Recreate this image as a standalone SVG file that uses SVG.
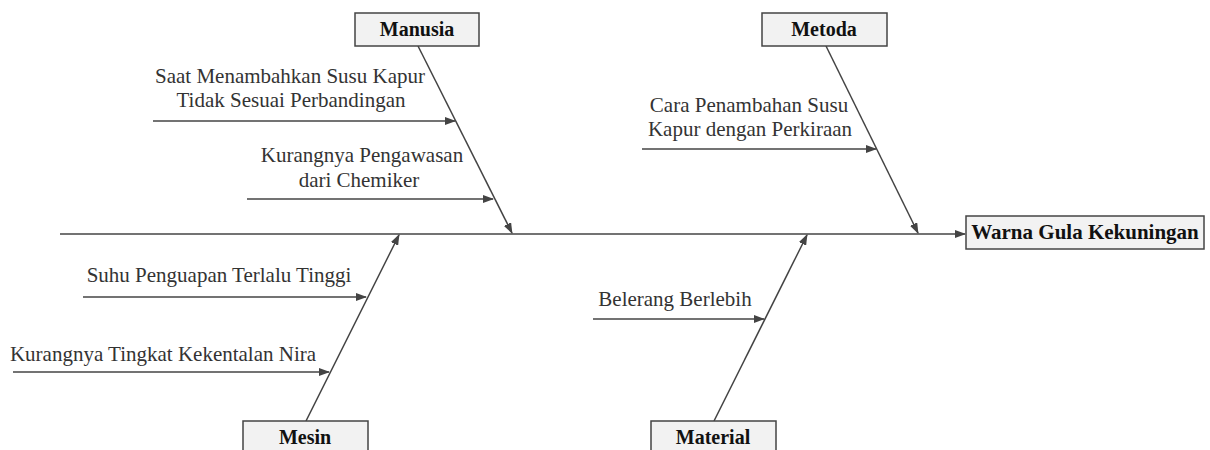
<svg xmlns="http://www.w3.org/2000/svg" width="1210" height="450" viewBox="0 0 1210 450">
<style>
.bg{fill:#ffffff}
.box{fill:#f2f2f2;stroke:#444;stroke-width:1.5}
.lbl{font-family:"Liberation Serif","Times New Roman",serif;font-weight:bold;font-size:20px;fill:#111;text-anchor:middle}
.big{font-size:21px}
.cause{font-family:"Liberation Serif","Times New Roman",serif;font-size:21px;fill:#333;text-anchor:middle}
.ln{stroke:#444;stroke-width:1.5;fill:none;marker-end:url(#ah)}
</style>
<defs>
<marker id="ah" markerUnits="userSpaceOnUse" markerWidth="11" markerHeight="8" refX="10" refY="4" orient="auto">
<path d="M0,0 L11,4 L0,8 z" fill="#444"/>
</marker>
</defs>
<rect class="bg" x="0" y="0" width="1210" height="450"/>
<g id="connectors">
<line class="ln" x1="60" y1="234" x2="965" y2="234"/>
<line class="ln" x1="418" y1="46" x2="512" y2="233"/>
<line class="ln" x1="826" y1="46" x2="918" y2="233"/>
<line class="ln" x1="306" y1="421" x2="399" y2="235"/>
<line class="ln" x1="714" y1="421" x2="807" y2="235"/>
<line class="ln" x1="153" y1="121" x2="455" y2="121"/>
<line class="ln" x1="247" y1="199" x2="493" y2="199"/>
<line class="ln" x1="642" y1="149" x2="876" y2="149"/>
<line class="ln" x1="83" y1="297" x2="366" y2="297"/>
<line class="ln" x1="13" y1="372" x2="329" y2="372"/>
<line class="ln" x1="593" y1="319" x2="764" y2="319"/>
</g>
<g id="effect">
<rect class="box" x="966" y="216" width="238" height="33"/>
<text class="lbl big" x="1085" y="239">Warna Gula Kekuningan</text>
</g>
<g id="manusia">
<rect class="box" x="355" y="13" width="124" height="33"/>
<text class="lbl" x="417" y="36">Manusia</text>
</g>
<g id="metoda">
<rect class="box" x="762" y="13" width="125" height="33"/>
<text class="lbl" x="824" y="36">Metoda</text>
</g>
<g id="mesin">
<rect class="box" x="243" y="421" width="125" height="40"/>
<text class="lbl" x="305" y="444">Mesin</text>
</g>
<g id="material">
<rect class="box" x="651" y="421" width="125" height="40"/>
<text class="lbl" x="713" y="444">Material</text>
</g>
<g id="cause-saat">
<text class="cause" x="290" y="83">Saat Menambahkan Susu Kapur</text>
<text class="cause" x="291" y="107">Tidak Sesuai Perbandingan</text>
</g>
<g id="cause-pengawasan">
<text class="cause" x="362" y="162">Kurangnya Pengawasan</text>
<text class="cause" x="359" y="187">dari Chemiker</text>
</g>
<g id="cause-cara">
<text class="cause" x="749" y="112">Cara Penambahan Susu</text>
<text class="cause" x="750" y="136">Kapur dengan Perkiraan</text>
</g>
<g id="cause-suhu">
<text class="cause" x="219" y="282">Suhu Penguapan Terlalu Tinggi</text>
</g>
<g id="cause-kekentalan">
<text class="cause" x="163" y="361">Kurangnya Tingkat Kekentalan Nira</text>
</g>
<g id="cause-belerang">
<text class="cause" x="675" y="306">Belerang Berlebih</text>
</g>
</svg>
